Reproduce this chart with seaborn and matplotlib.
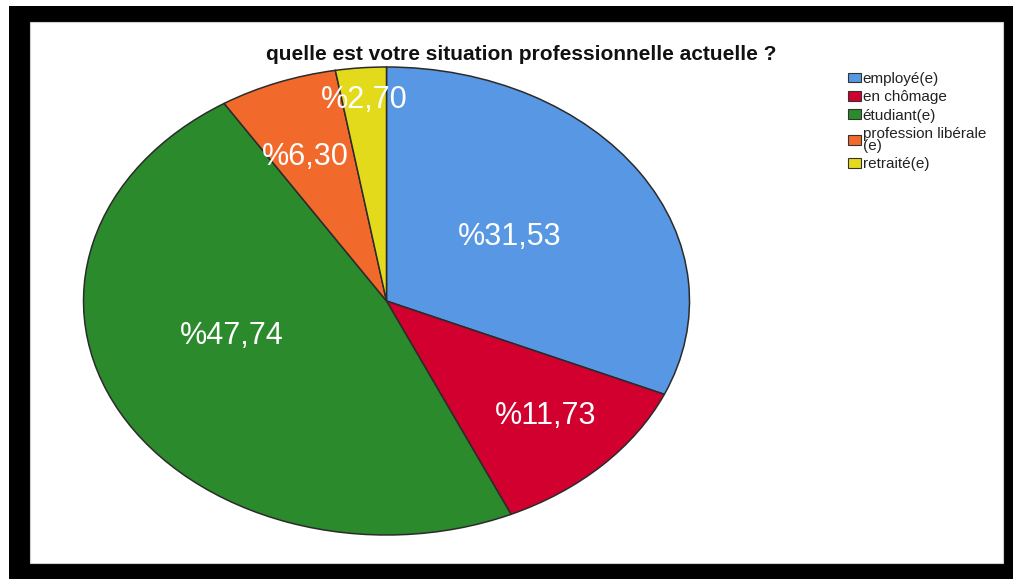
import matplotlib
matplotlib.use("Agg")
import matplotlib.pyplot as plt
from matplotlib.patches import Rectangle, Patch
import numpy as np
import seaborn as sns

sns.set_theme(style="white")
plt.rcParams["font.family"] = ["Liberation Sans", "DejaVu Sans"]

categories = ["employé(e)", "en chômage", "étudiant(e)", "profession libérale\n(e)", "retraité(e)"]
percentages = [31.53, 11.73, 47.74, 6.30, 2.70]
pct_labels = ["%31,53", "%11,73", "%47,74", "%6,30", "%2,70"]
palette = sns.color_palette(["#5797E3", "#D2002F", "#2B8A2B", "#F26A2B", "#E4DA1C"])

W, H = 1013, 579
fig = plt.figure(figsize=(W / 100, H / 100), dpi=100)
fig.patch.set_facecolor("white")

# outer black frame and inner white panel
fig.patches.append(Rectangle((9 / W, 0), 1, (H - 6) / H, transform=fig.transFigure,
                             facecolor="black", edgecolor="none", zorder=-2))
fig.patches.append(Rectangle((30 / W, 16 / H), (1003 - 30) / W, (563 - 22) / H,
                             transform=fig.transFigure, facecolor="white",
                             edgecolor="#cfcfcf", linewidth=0.8, zorder=-1))

# elliptical pie: the axes box is the ellipse's bounding box
ax = fig.add_axes([83.5 / W, (H - 535) / H, 606 / W, 468 / H])
wedges, _ = ax.pie(percentages, colors=palette, startangle=90, counterclock=False,
                   wedgeprops=dict(edgecolor="#2b2b2b", linewidth=1.1))
ax.set_aspect("auto")
ax.set_xlim(-1, 1)
ax.set_ylim(-1, 1)
ax.axis("off")

# value labels placed along each wedge
label_radius = [0.49, 0.72, 0.531, 0.671, 0.862]
label_shift = [0.6, 1.6, -11.9, 2.5, 0.0]
for w, lab, r, s in zip(wedges, pct_labels, label_radius, label_shift):
    ang = np.deg2rad((w.theta1 + w.theta2) / 2 + s)
    ax.text(r * np.cos(ang), r * np.sin(ang), lab, color="white", fontsize=22,
            ha="center", va="center")

fig.text(521 / W, 1 - 55 / H, "quelle est votre situation professionnelle actuelle ?",
         ha="center", va="center", fontsize=15, fontweight="bold", color="#111111")

handles = [Patch(facecolor=c, edgecolor="#333333", linewidth=0.8) for c in palette]
leg = fig.legend(handles, categories, loc="upper left",
                 bbox_to_anchor=(848 / W, 1 - 72 / H), frameon=False, fontsize=11,
                 handlelength=0.85, handleheight=0.6, handletextpad=0.12,
                 labelspacing=0.28, borderpad=0, borderaxespad=0)
for t in leg.get_texts():
    t.set_linespacing(0.85)
    t.set_color("#222222")

fig.savefig("out.png", dpi=100, facecolor="white")
